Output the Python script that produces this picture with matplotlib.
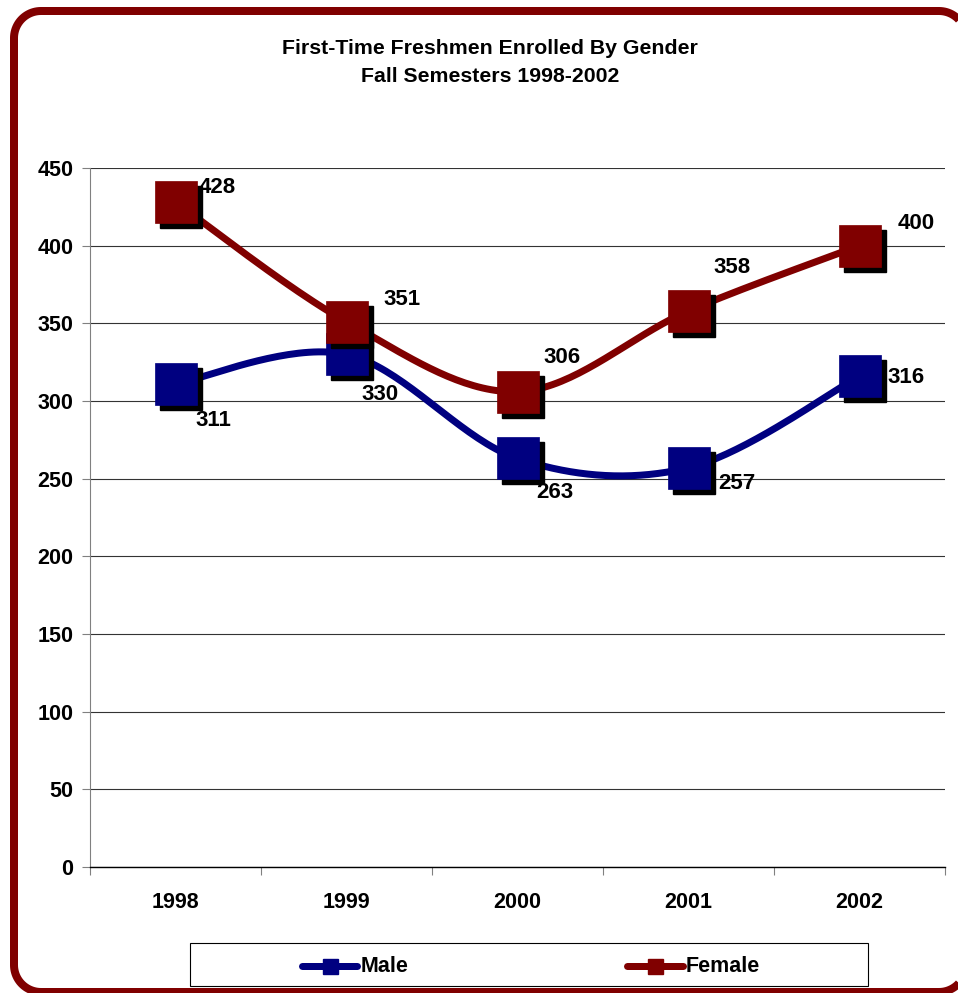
import numpy as np
import matplotlib
matplotlib.use("Agg")
import matplotlib.pyplot as plt
from matplotlib.patches import Polygon, Rectangle
from matplotlib.lines import Line2D
from matplotlib.transforms import IdentityTransform, offset_copy

plt.rcParams['font.family'] = ['Liberation Sans', 'DejaVu Sans']
plt.rcParams['font.weight'] = 'bold'

years = ['1998', '1999', '2000', '2001', '2002']
male = [311, 330, 263, 257, 316]
female = [428, 351, 306, 358, 400]
yticks = [0, 50, 100, 150, 200, 250, 300, 350, 400, 450]
title_lines = ["First-Time Freshmen Enrolled By Gender", "Fall Semesters 1998-2002"]

MALE_C = '#000080'
FEMALE_C = '#800000'

W, H = 958, 993
fig = plt.figure(figsize=(W / 100, H / 100), dpi=100)
fig.patch.set_facecolor('white')


def rounded_rect(x0, y0, x1, y1, r, n=24):
    pts = []
    corners = [(x1 - r, y1 - r, 0), (x0 + r, y1 - r, 90), (x0 + r, y0 + r, 180), (x1 - r, y0 + r, 270)]
    for cx, cy, a0 in corners:
        a = np.deg2rad(np.linspace(a0, a0 + 90, n))
        pts.append(np.column_stack([cx + r * np.cos(a), cy + r * np.sin(a)]))
    return np.vstack(pts)


itr = IdentityTransform()
border = Polygon(rounded_rect(14, 1, 966, H - 11, 27), closed=True, fill=False,
                 edgecolor=FEMALE_C, linewidth=8 * 0.72, transform=itr,
                 joinstyle='round')
fig.patches.append(border)

ax = fig.add_axes([90 / W, 1 - 867 / H, 855 / W, 699 / H])
ax.set_xlim(-0.5, 4.5)
ax.set_ylim(0, 450)


def smooth(ys, n=40):
    pts = np.column_stack([np.arange(len(ys), dtype=float), np.asarray(ys, float)])
    out = []
    for i in range(len(pts) - 1):
        p0 = pts[max(i - 1, 0)]
        p1 = pts[i]
        p2 = pts[i + 1]
        p3 = pts[min(i + 2, len(pts) - 1)]
        c1 = p1 + (p2 - p0) / 6.0
        c2 = p2 - (p3 - p1) / 6.0
        t = np.linspace(0, 1, n)[:, None]
        seg = ((1 - t) ** 3) * p1 + 3 * ((1 - t) ** 2) * t * c1 + 3 * (1 - t) * t ** 2 * c2 + t ** 3 * p2
        out.append(seg if i == 0 else seg[1:])
    out = np.vstack(out)
    return out[:, 0], out[:, 1]


shadow_tr = offset_copy(ax.transData, fig=fig, x=5, y=-5, units='dots')
xs = np.arange(len(years))
lw = 7 * 0.72
ms = 42 * 0.72

for k, (vals, col) in enumerate([(male, MALE_C), (female, FEMALE_C)]):
    z = 3 + k * 3
    sx, sy = smooth(vals)
    ax.plot(sx, sy, color=col, lw=lw, solid_capstyle='round', zorder=z)
    ax.plot(xs, vals, linestyle='none', marker='s', ms=ms, color='black',
            transform=shadow_tr, zorder=z + 1)
    ax.plot(xs, vals, linestyle='none', marker='s', ms=ms, color=col,
            markeredgecolor=col, markeredgewidth=0.5, zorder=z + 2)

# data labels (offsets in pixels)
female_off = [(42, 15), (55, 22), (45, 34), (44, 43), (57, 22)]
male_off = [(38, -37), (33, -40), (37, -34), (48, -16), (47, -1)]
for vals, offs in [(female, female_off), (male, male_off)]:
    for i, v in enumerate(vals):
        ax.annotate(str(v), (i, v), xytext=offs[i], textcoords='offset pixels',
                    ha='center', va='center', fontsize=16, fontweight='bold',
                    zorder=10)

# grid and axes styling
ax.set_yticks(yticks)
ax.set_yticklabels([str(t) for t in yticks], fontsize=15.5, fontweight='bold')
ax.yaxis.grid(True, color='#333333', lw=0.8)
ax.set_axisbelow(True)
ax.set_xticks(np.arange(-0.5, 5, 1.0))
ax.set_xticklabels([])
ax.set_xticks(xs, minor=True)
ax.set_xticklabels(years, minor=True, fontsize=15.5, fontweight='bold')
ax.tick_params(axis='x', which='major', direction='out', length=6, width=0.8, color='#808080')
ax.tick_params(axis='x', which='minor', length=0, pad=18)
ax.tick_params(axis='y', direction='out', length=6, width=0.8, color='#808080', pad=6)
for s in ['top', 'right']:
    ax.spines[s].set_visible(False)
ax.spines['left'].set_color('#808080')
ax.spines['left'].set_linewidth(0.8)
ax.spines['bottom'].set_color('black')
ax.spines['bottom'].set_linewidth(1.0)

for ty, line in zip([49, 76], title_lines):
    fig.text(490 / W, 1 - ty / H, line, ha='center', va='center', fontsize=15.3,
             fontweight='bold')

# legend box
fig.patches.append(Rectangle((190, H - 986), 678, 43, transform=itr, fill=False,
                             edgecolor='black', linewidth=0.8))
ly = H - 966
for (x0, x1, xt, col, lab) in [(302, 357, 361, MALE_C, 'Male'), (627, 683, 686, FEMALE_C, 'Female')]:
    fig.add_artist(Line2D([x0, x1], [ly, ly], transform=itr, color=col, lw=lw,
                          solid_capstyle='round'))
    fig.add_artist(Line2D([(x0 + x1) / 2], [ly], transform=itr, color=col,
                          marker='s', ms=15 * 0.72, linestyle='none'))
    fig.text(xt / W, (ly - 1) / H, lab, ha='left', va='center', fontsize=15.5,
             fontweight='bold')

fig.savefig('out.png', dpi=100, facecolor='white')
